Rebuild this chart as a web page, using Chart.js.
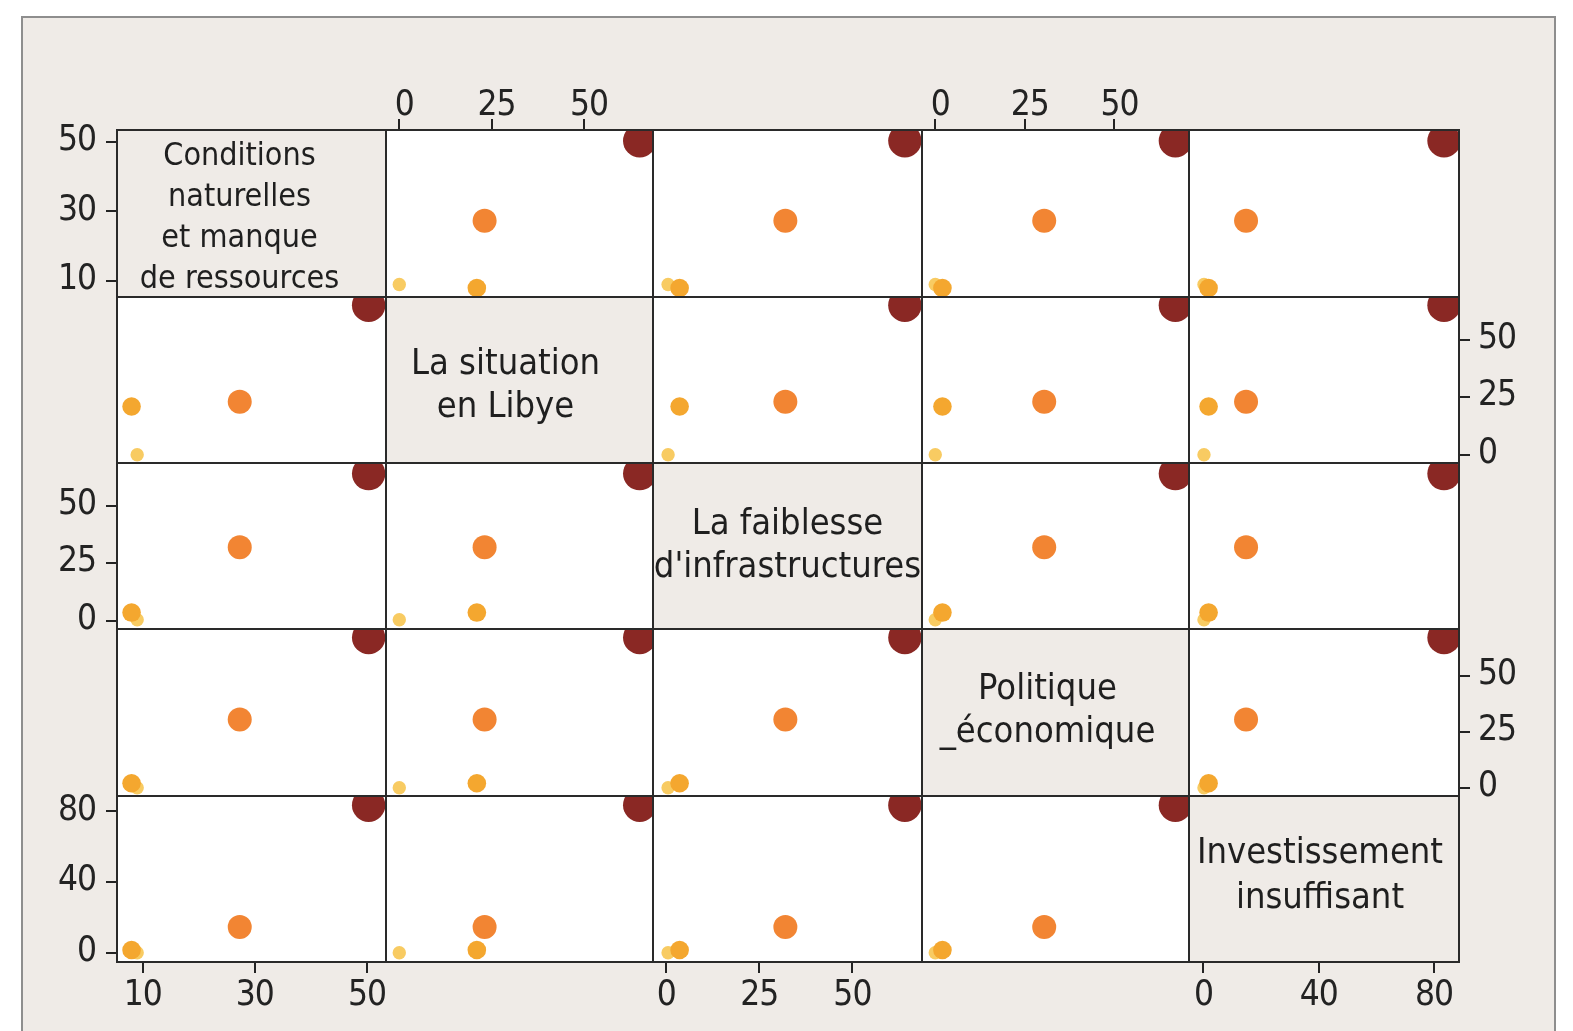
<!DOCTYPE html>
<html><head><meta charset="utf-8">
<script src="https://cdn.jsdelivr.net/npm/chart.js@4/dist/chart.umd.min.js"></script>
<style>
html,body{margin:0;padding:0;background:#fff;width:1573px;height:1031px;overflow:hidden;}
#frame{position:absolute;left:21px;top:16px;width:1535px;height:1040px;border:2px solid #8e8e8e;background:#EFEBE7;box-sizing:border-box;}
canvas{position:absolute;}
.lbl{position:absolute;display:flex;align-items:center;justify-content:center;text-align:center;font-family:'DejaVu Sans Condensed','DejaVu Sans',sans-serif;color:#1f1f1f;pointer-events:none;white-space:nowrap;}
</style></head><body><div id="frame"></div><div id="root"></div>
<script>
// ---- data ----
const variables = ["Conditions naturelles et manque de ressources", "La situation en Libye", "La faiblesse d'infrastructures", "Politique _économique", "Investissement insuffisant"];
const labelLines = [["Conditions","naturelles","et manque","de ressources"],["La situation","en Libye"],["La faiblesse","d'infrastructures"],["Politique","_économique"],["Investissement","insuffisant"]];
// four observations (light yellow, yellow-orange, orange, dark red)
const conditionsNaturelles     = [9.0, 8.0, 27.3, 50.3];
const situationLibye           = [0.0, 21.0, 23.1, 65.1];
const faiblesseInfrastructures = [0.5, 3.6, 32.0, 64.1];
const politiqueEconomique      = [0.0, 2.0, 30.4, 67.0];
const investissementInsuffisant= [0.2, 1.8, 14.8, 83.5];
const ticksConditions = [10, 30, 50];
const ticksLibye = [0, 25, 50];
const ticksInfrastructures = [0, 25, 50];
const ticksPolitique = [0, 25, 50];
const ticksInvestissement = [0, 40, 80];

// ---- configuration ----
const series = [conditionsNaturelles, situationLibye, faiblesseInfrastructures, politiqueEconomique, investissementInsuffisant];
const tickSets = [ticksConditions, ticksLibye, ticksInfrastructures, ticksPolitique, ticksInvestissement];
const axisRanges = [[5.4, 53.4], [-3.6, 68.7], [-3.55, 68.7], [-3.7, 70.8], [-5.0, 88.7]];
const pointColors = ['#F8CB62', '#F4A72F', '#F28533', '#8A2824'];
const pointRadii = [6.7, 9.3, 12, 16.7];
const X_EDGES = [117, 386, 653, 922, 1189, 1459];
const Y_EDGES = [130, 297, 463, 629, 796, 962];
const AX = 110, EXT = 30;
const TICK_FONT = {family: "'DejaVu Sans Condensed','DejaVu Sans',sans-serif", size: 35, lineHeight: 1};
const TICK_COLOR = '#232323';
const labelStyle = [
  {size: 32, lh: 41, dx: -12, dy: 2},
  {size: 36, lh: 43, dx: -14, dy: 3},
  {size: 36, lh: 43, dx: 0, dy: -3},
  {size: 36, lh: 43, dx: -8, dy: -5},
  {size: 36, lh: 45, dx: -4, dy: -6}
];

const panelPlugin = {
  id: 'panel',
  beforeDraw(chart, args, opts) {
    const a = chart.chartArea, ctx = chart.ctx;
    ctx.save(); ctx.fillStyle = opts.bg; ctx.fillRect(a.left, a.top, a.right - a.left, a.bottom - a.top); ctx.restore();
    try { ctx.letterSpacing = '-1px'; } catch (e) {}
  },
  afterDraw(chart) {
    const a = chart.chartArea, ctx = chart.ctx;
    ctx.save(); ctx.strokeStyle = '#2a2a2a'; ctx.lineWidth = 2;
    ctx.strokeRect(a.left, a.top, a.right - a.left, a.bottom - a.top); ctx.restore();
  }
};

const root = document.getElementById('root');
for (let r = 0; r < 5; r++) {
  for (let c = 0; c < 5; c++) {
    const hasLeft = c === 0 && r % 2 === 0;
    const hasRight = c === 4 && r % 2 === 1;
    const hasTop = r === 0 && c % 2 === 1;
    const hasBottom = r === 4 && c % 2 === 0;
    const showX = hasTop || hasBottom, showY = hasLeft || hasRight;
    const x0 = X_EDGES[c], x1 = X_EDGES[c + 1], y0 = Y_EDGES[r], y1 = Y_EDGES[r + 1];
    const pL = hasLeft ? AX : (showX ? EXT : 1);
    const pR = hasRight ? AX : (showX ? EXT : 1);
    const pT = hasTop ? AX : (showY ? EXT : 1);
    const pB = hasBottom ? AX : (showY ? EXT : 1);
    const cv = document.createElement('canvas');
    const W = x1 - x0 + pL + pR, H = y1 - y0 + pT + pB;
    cv.width = W; cv.height = H;
    cv.style.left = (x0 - pL) + 'px'; cv.style.top = (y0 - pT) + 'px';
    cv.style.width = W + 'px'; cv.style.height = H + 'px';
    root.appendChild(cv);
    const diag = r === c;
    const data = diag ? [] : series[c].map((v, i) => ({x: v, y: series[r][i]}));
    const xTicks = tickSets[c], yTicks = tickSets[r];
    new Chart(cv, {
      type: 'scatter',
      data: {datasets: [{data, pointBackgroundColor: pointColors, pointRadius: pointRadii, pointHoverRadius: pointRadii, pointBorderWidth: 0, borderWidth: 0, clip: 0}]},
      plugins: [panelPlugin],
      options: {
        responsive: false, animation: false, devicePixelRatio: 1, events: [],
        layout: {autoPadding: false, padding: {left: hasLeft ? 0 : pL, right: hasRight ? 0 : pR, top: hasTop ? 0 : pT, bottom: hasBottom ? 0 : pB}},
        plugins: {legend: {display: false}, tooltip: {enabled: false}, panel: {bg: diag ? '#EFEBE7' : '#ffffff'}},
        scales: {
          x: {
            type: 'linear', display: showX, position: hasTop ? 'top' : 'bottom',
            min: axisRanges[c][0], max: axisRanges[c][1],
            afterBuildTicks: s => { s.ticks = xTicks.map(v => ({value: v})); },
            afterFit: s => { s.height = showX ? AX : 0; s.paddingLeft = 0; s.paddingRight = 0; },
            grid: {drawOnChartArea: false, drawTicks: true, tickLength: 11, color: TICK_COLOR, lineWidth: 2},
            border: {display: false},
            ticks: {font: TICK_FONT, color: TICK_COLOR, padding: hasTop ? -4 : 5, labelOffset: hasTop ? 5 : 0, maxRotation: 0, autoSkip: false}
          },
          y: {
            type: 'linear', display: showY, position: hasLeft ? 'left' : 'right',
            min: axisRanges[r][0], max: axisRanges[r][1],
            afterBuildTicks: s => { s.ticks = yTicks.map(v => ({value: v})); },
            afterFit: s => { s.width = showY ? AX : 0; s.paddingTop = 0; s.paddingBottom = 0; },
            grid: {drawOnChartArea: false, drawTicks: true, tickLength: 11, color: TICK_COLOR, lineWidth: 2},
            border: {display: false},
            ticks: {font: TICK_FONT, color: TICK_COLOR, padding: hasLeft ? 10 : 8, labelOffset: -1, autoSkip: false}
          }
        }
      }
    });
    if (diag) {
      const st = labelStyle[r];
      const d = document.createElement('div');
      d.className = 'lbl';
      d.style.left = x0 + 'px'; d.style.top = y0 + 'px';
      d.style.width = (x1 - x0) + 'px'; d.style.height = (y1 - y0) + 'px';
      const inner = document.createElement('div');
      inner.style.fontSize = st.size + 'px'; inner.style.lineHeight = st.lh + 'px';
      inner.style.transform = `translate(${st.dx}px, ${st.dy}px)`;
      labelLines[r].forEach(t => { const ln = document.createElement('div'); ln.textContent = t; inner.appendChild(ln); });
      d.appendChild(inner);
      root.appendChild(d);
    }
  }
}
</script></body></html>
